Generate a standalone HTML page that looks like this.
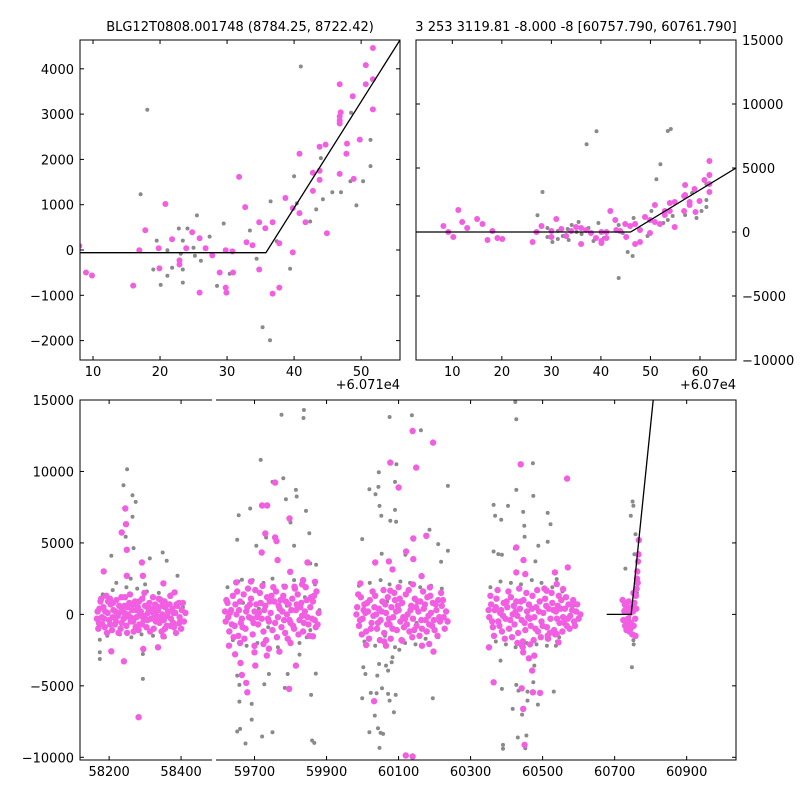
<!DOCTYPE html>
<html><head><meta charset="utf-8">
<style>
html,body{margin:0;padding:0;background:#fff;width:800px;height:800px;overflow:hidden}
svg{display:block;font-family:"DejaVu Sans","Liberation Sans",sans-serif}
</style></head>
<body>
<svg id="chart" width="800" height="800" viewBox="0 0 800 800" xmlns="http://www.w3.org/2000/svg">
<rect width="800" height="800" fill="#fff"/>
<text x="240" y="31" font-size="13" text-anchor="middle">BLG12T0808.001748 (8784.25, 8722.42)</text>
<text x="576" y="31" font-size="13" text-anchor="middle">3 253 3119.81 -8.000 -8 [60757.790, 60761.790]</text>
<text x="400" y="389" font-size="13" text-anchor="end">+6.071e4</text>
<text x="736" y="389" font-size="13" text-anchor="end">+6.07e4</text>
<g id="layer"></g>
</svg>
<script>
// ---------- Top-left panel data (x offset +60710) ----------
const tlPinkX=[7.95,8.95,9.85,16,16.9,17.8,19.8,19.9,20.8,21.8,22.9,22.9,23.9,24.8,25.9,25.9,26.8,27.8,28.9,29.8,29.8,29.9,30.8,30.9,31.8,32.7,32.9,33.8,34.8,34.8,35.7,36.8,36.8,37.8,37.8,38.7,39.8,39.8,40.8,40.8,41.7,42.8,42.8,43.8,43.8,43.8,44.7,44.9,46.8,46.8,46.8,46.8,46.95,46.8,47.8,47.9,48.75,48.9,49.8,50.7,50.7,51.75,51.75,51.75];
const tlPinkY=[89,-496,-563,-785,-7,437,37,-407,1015,237,-230,-319,37,393,259,-941,37,-119,-496,-7,-830,-941,-30,-496,1615,948,170,104,615,-430,481,615,-963,148,-830,1148,926,-52,2126,815,615,1704,1304,2281,1748,1548,2326,370,3659,2948,2859,2793,3037,1681,2126,2348,3393,1570,2437,4081,3659,4459,3770,3104];
const tlGrayX=[18.1,17.1,19.5,19.0,21.1,21.1,20.1,21.8,22.8,23.4,23.1,23.4,23.4,24.1,25.5,25.0,25.2,26.1,27.4,28.5,29.5,30.4,33.4,34.4,35.3,36.4,36.5,37.4,39.4,40.0,40.4,41.0,42.4,43.3,44.0,44.3,45.7,47.0,48.4,48.5,49.3,50.3,51.4,51.4];
const tlGrayY=[3096,1230,207,-430,-7,-570,-770,-393,474,207,-81,-430,-719,474,763,52,-126,-237,296,-793,585,-526,430,-193,-1704,-1993,1074,193,-415,1630,1030,4052,630,896,2030,1119,1274,1274,1519,3030,985,1519,2430,1852];
const tlModelX=[8.06,35.8,55.8];
const tlModelY=[-60,-60,4636];
const tlXTicks=[10,20,30,40,50];
const tlYTicks=[-2000,-1000,0,1000,2000,3000,4000];

// ---------- Top-right panel data (x offset +60700) ----------
const trPinkX=[8.2,9.2,10.2,11.2,12.0,13.0,15.0,16.1,17.1,18.1,19.1,20.1,26.2,27.0,28.0,30.0,30.0,31.0,32.0,33.0,34.0,35.0,36.0,36.0,37.0,38.0,39.0,40.1,40.1,40.1,41.1,41.1,41.9,42.9,43.1,43.9,44.9,45.1,45.9,46.9,46.9,47.9,47.9,48.9,49.9,49.9,50.9,50.9,51.9,52.9,52.9,53.9,53.9,54.9,54.9,56.8,57.0,57.0,57.9,57.9,58.9,59.1,59.9,60.9,61.9,61.9,61.9,61.9,56.8];
const trPinkY=[469,0,-391,1719,781,312,1016,625,-625,78,-469,-547,-781,0,469,-391,78,1016,234,-312,78,391,-937,312,156,-78,-469,0,-859,-703,-469,0,1641,937,156,78,625,-391,469,625,-937,156,-781,1172,-78,937,2109,781,625,1641,1328,2266,1641,2344,391,1641,3672,2891,2344,2109,3359,1562,2422,4062,4453,3750,3125,5547,2812];
const trGrayX=[28.2,27.2,29.2,29.2,30.2,31.3,31.3,32.3,33.3,33.5,34.1,35.5,35.1,36.1,37.1,37.5,38.5,39.1,39.5,40.6,43.6,43.6,44.4,45.4,46.4,46.6,49.4,50.2,51.2,52.0,52.6,53.5,54.1,54.5,53.5,57.0,58.4,59.3,60.3,61.3,61.3,61.3];
const trGrayY=[3125,1302,312,-391,-781,78,-547,-312,234,-625,547,781,0,-156,6849,312,-703,7864,703,-469,-3594,547,-78,-1562,-1875,1094,-312,1641,4114,5286,703,7890,8046,1250,937,1328,3047,1094,1641,2500,1953,3750];
const trModelX=[2.67,46,67.27];
const trModelY=[0,0,5000];
const trXTicks=[10,20,30,40,50,60];
const trYTicks=[-10000,-5000,0,5000,10000,15000];

// ---------- Bottom panel data (full MJD) ----------
const btPink=[
[58168,200],[58172,-600],[58176,900],[58180,-200],[58184,500],[58188,-900],[58192,1300],[58196,100],[58200,-400],[58204,700],[58208,-1100],[58212,300],[58216,-700],[58220,1000],[58224,-100],[58228,600],[58232,-1000],[58236,400],[58240,-300],[58244,1200],[58248,-800],[58252,0],[58256,800],[58260,-500],[58264,300],[58268,-1200],[58272,900],[58276,-200],[58280,500],[58284,-700],[58288,200],[58292,1100],[58296,-400],[58300,600],[58304,-900],[58308,100],[58312,800],[58316,-300],[58320,400],[58324,-1000],[58328,700],[58332,-100],[58336,300],[58340,-600],[58344,1000],[58348,0],[58352,-400],[58356,500],[58360,-800],[58364,200],[58368,700],[58372,-300],[58376,400],[58380,-900],[58384,100],[58390,600],[58396,-200],[58402,300],[58408,-500],[58412,100],
[58170,-1000],[58178,1100],[58186,-300],[58194,-1300],[58202,1100],[58210,-200],[58218,200],[58226,-1300],[58234,1200],[58242,100],[58250,-1300],[58258,1400],[58266,700],[58274,-900],[58282,-1100],[58290,-100],[58298,1500],[58306,500],[58314,-1200],[58322,1200],[58330,-500],[58338,1100],[58346,-1200],[58354,900],[58362,-100],[58370,1300],[58378,-600],[58386,-1300],[58394,800],[58400,-1000],
[58166,-300],[58173,400],[58181,-700],[58189,200],[58197,900],[58203,-700],[58211,800],[58219,-500],[58227,100],[58235,-600],[58243,600],[58251,500],[58259,-200],[58267,-500],[58275,300],[58283,900],[58291,-700],[58299,-100],[58307,-400],[58315,400],[58323,100],[58331,600],[58339,-300],[58347,600],[58355,-1000],[58363,700],[58371,-800],[58379,100],[58387,700],[58395,-600],[58405,800],[58245,-200],[58285,100],[58325,-300],
[58282,-7197],[58245,7406],[58247,6312],[58235,5729],[58249,4518],[58291,3633],[58185,3004],[58294,2702],[58351,2166],[58249,2702],[58206,-2585],[58241,-3284],[58295,-2422],[58336,-2306],[58351,-1537],[58382,1537],
[59620,-500],[59625,800],[59630,-1200],[59635,300],[59640,1300],[59645,-800],[59650,0],[59655,-1500],[59660,900],[59665,-300],[59670,1400],[59675,-1000],[59680,500],[59685,-200],[59690,1100],[59695,-1400],[59700,200],[59705,700],[59710,-700],[59715,1500],[59720,-300],[59725,-1200],[59730,600],[59735,1200],[59740,-500],[59745,100],[59750,-1100],[59755,900],[59760,1600],[59765,-200],[59770,400],[59775,-900],[59780,1300],[59785,-1300],[59790,0],[59795,700],[59800,-600],[59805,1100],[59810,-1000],[59815,300],[59820,1400],[59825,-400],[59830,800],[59835,-1200],[59840,200],[59845,1000],[59850,-700],[59855,500],[59860,-300],[59865,1300],[59870,-900],[59878,100],
[59622,1000],[59632,100],[59642,-1600],[59652,1600],[59662,-600],[59672,-1700],[59682,1800],[59692,-300],[59702,1700],[59712,100],[59722,2000],[59732,-1800],[59742,900],[59752,1900],[59762,-1600],[59772,1000],[59782,-400],[59792,-1700],[59802,300],[59812,1800],[59822,-1400],[59832,-100],[59842,1900],[59852,-1500],[59862,900],[59872,1600],
[59618,200],[59627,-200],[59637,-700],[59647,700],[59657,300],[59667,-900],[59677,200],[59687,700],[59697,-600],[59707,-200],[59717,800],[59727,300],[59737,-300],[59747,1300],[59757,-600],[59767,600],[59777,200],[59787,900],[59797,-400],[59807,-800],[59817,700],[59827,500],[59837,-600],[59847,-200],[59857,1200],[59867,-400],[59875,-700],[59660,-2000],[59700,-2200],[59740,-2400],[59800,-2000],[59835,2400],[59690,2300],
[59757,9223],[59721,7616],[59735,7616],[59730,5659],[59720,4332],[59757,5380],[59761,5124],[59764,3796],[59797,6707],[59799,2981],[59784,1933],[59811,1933],[59832,2096],[59847,3633],[59868,2282],[59649,2236],[59629,-2189],[59646,-2795],[59661,-3400],[59665,-4239],[59677,-4798],[59680,-5450],[59700,-2655],[59702,-3587],[59734,-2888],[59769,-2608],[59796,-5217],[59815,-3587],[59862,-1537],[59725,-2073],
[59985,500],[59990,-800],[59995,1200],[60000,-300],[60005,700],[60010,-1200],[60015,200],[60020,1000],[60025,-600],[60030,-100],[60035,1300],[60040,-1000],[60045,400],[60050,-400],[60055,900],[60060,-1300],[60065,100],[60070,1200],[60075,-700],[60080,500],[60085,-200],[60090,1000],[60095,-1100],[60100,300],[60105,-500],[60110,800],[60115,-900],[60120,1400],[60125,0],[60130,-1200],[60135,600],[60140,-300],[60145,1100],[60150,-800],[60155,200],[60160,900],[60165,-1000],[60170,400],[60175,-400],[60180,1200],[60185,-700],[60190,100],[60195,800],[60200,-1100],[60205,300],[60210,1000],[60215,-500],[60220,600],[60225,-200],[60232,200],
[59988,1400],[59998,-1400],[60008,100],[60018,-1700],[60028,1600],[60038,0],[60048,-1800],[60058,1700],[60068,-700],[60078,-1700],[60088,1500],[60098,600],[60108,-1800],[60118,-300],[60128,1700],[60138,-1600],[60148,500],[60158,-1500],[60168,1600],[60178,-1200],[60188,1300],[60198,-400],[60208,-1500],[60218,1500],[60228,-1000],
[59983,0],[59993,-400],[60003,300],[60013,800],[60023,-1000],[60033,500],[60043,-600],[60053,200],[60063,700],[60073,-300],[60083,-1000],[60093,200],[60103,1100],[60113,-200],[60123,-700],[60133,300],[60143,-1100],[60153,900],[60163,-400],[60173,700],[60183,-100],[60193,-800],[60203,700],[60213,-200],[60223,1000],[60236,-500],[60060,-1900],[60100,1900],[60140,2100],
[60139,12833],[60196,12017],[60149,10271],[60077,10620],[60100,8874],[60035,3633],[60073,3703],[60083,3144],[60121,4402],[60141,3866],[60141,5310],[60177,5497],[60164,2678],[60187,1887],[59994,2166],[60077,1654],[60010,-2143],[60065,-2189],[60110,-1840],[60165,-2189],[60185,-2073],[60197,-2608],[60032,-6079],[60139,-9945],[60120,-9875],
[60352,-200],[60357,700],[60362,-900],[60367,300],[60372,1100],[60377,-500],[60382,100],[60387,-1200],[60392,800],[60397,-300],[60402,500],[60407,-1000],[60412,1200],[60417,0],[60422,-700],[60427,900],[60432,-1300],[60437,400],[60442,-400],[60447,1000],[60452,-1100],[60457,200],[60462,700],[60467,-800],[60472,1300],[60477,-200],[60482,500],[60487,-1200],[60492,900],[60497,-500],[60502,100],[60507,1100],[60512,-900],[60517,400],[60522,-300],[60527,800],[60532,-1100],[60537,200],[60542,600],[60547,-600],[60552,1000],[60557,-200],[60562,400],[60567,-800],[60572,700],[60577,-100],[60582,300],[60587,-500],[60593,200],[60600,-300],
[60355,1300],[60365,-1500],[60375,1700],[60385,300],[60395,-1700],[60405,1600],[60415,-1600],[60425,200],[60435,1800],[60445,-1900],[60455,1500],[60465,-300],[60475,-1800],[60485,1700],[60495,-1600],[60505,1800],[60515,-1700],[60525,1500],[60535,-1400],[60545,1300],[60555,-1200],[60565,1200],[60575,-1000],[60585,1000],[60596,700],
[60350,300],[60360,-500],[60370,500],[60380,-800],[60390,-100],[60400,900],[60410,-400],[60420,600],[60430,-100],[60440,900],[60450,-600],[60460,-200],[60470,400],[60480,-1000],[60490,200],[60500,-800],[60510,600],[60520,-1300],[60530,300],[60540,-300],[60550,400],[60560,-600],[60570,-300],[60580,700],[60590,-800],[60605,0],[60445,-2300],[60465,-2100],[60430,-2000],
[60439,10504],[60568,9502],[60427,4681],[60447,3796],[60452,2818],[60427,2934],[60570,3284],[60534,2934],[60539,2119],[60557,1770],[60511,1654],[60351,-2306],[60364,-4751],[60443,-2189],[60446,-2655],[60462,-3074],[60471,-3936],[60477,-2888],[60446,-6614],[60450,-9130],[60442,-5170],[60473,-5450],[60493,-5496],[60514,-1491],[60544,-1956],[60539,-1374],
[60722,1000],[60724,-400],[60727,200],[60729,-800],[60731,600],[60733,-1100],[60735,300],[60737,-300],[60739,900],[60741,-1200],[60743,100],[60745,-600],[60747,500],[60749,-1400],[60751,200],[60753,-800],[60755,800],[60757,-300],[60759,1300],[60761,1800],[60762,2500],[60763,3000],[60764,2200],[60765,3700],[60766,4200],[60767,5200],[60760,400],[60758,-1500],[60752,1500],[60744,-1000],[60735,-700],[60728,700]
];
const btGray=[
[58250,10155],[58240,9036],[58265,8338],[58274,7872],[58265,6824],[58268,4635],[58246,5427],[58206,4100],[58349,4332],[58360,3750],[58390,2700],[58313,3913],[58294,-4518],[58294,-2771],[58174,-3121],[58174,-2655],[58174,-1770],[58295,1188],
[58170,-700],[58182,1400],[58195,-1500],[58210,1700],[58230,-1400],[58248,1900],[58262,-1600],[58278,1800],[58290,-1400],[58305,1600],[58322,-1500],[58338,1500],[58355,-1600],[58372,1400],[58392,-700],[58405,500],[58220,2200],[58300,2100],[58260,2500],
[59717,10807],[59775,13974],[59837,14300],[59836,13741],[59656,6940],[59688,7406],[59750,9269],[59780,9526],[59787,8058],[59815,8710],[59817,8245],[59800,6428],[59843,7243],[59652,5217],[59732,5380],[59705,4798],[59810,4798],[59852,5683],[59855,3563],[59871,3470],[59665,2422],[59652,-4285],[59658,-4937],[59658,-6102],[59692,-6265],[59692,-7360],[59660,-8012],[59652,-8198],[59675,-9036],[59721,-8547],[59750,-8245],[59727,-4891],[59740,-4169],[59792,-4169],[59784,-5147],[59825,-2818],[59857,-5636],[59860,-8826],[59866,-8990],[59870,-4146],[59702,-2189],[59845,-1607],
[59625,1900],[59640,-1800],[59655,2300],[59668,800],[59678,-2200],[59695,2400],[59708,-2000],[59725,2200],[59738,-900],[59750,2500],[59765,-2300],[59780,2000],[59795,-1800],[59810,2400],[59825,-2000],[59840,1200],[59855,-1100],[59868,2100],[59880,300],[59712,400],[59790,600],
[60075,13811],[60137,13927],[60162,12879],[60094,10504],[60045,9945],[60044,8920],[60019,8757],[60036,8408],[60090,9269],[60047,7593],[60090,7313],[60077,6545],[60093,6475],[60052,6894],[59999,5264],[60053,4239],[60119,4169],[60237,8990],[60186,5916],[60210,4914],[60237,4449],[60218,3680],[60002,-3703],[60008,-4169],[60046,-3470],[60065,-3587],[60083,-3004],[60081,-3354],[60071,-3936],[60041,-4285],[59999,-5869],[60023,-5496],[60039,-5520],[60071,-5566],[60092,-5636],[60054,-5170],[60075,-6032],[60087,-6847],[60034,-7080],[60019,-8245],[60043,-7965],[60050,-8291],[60057,-8361],[60047,-9340],[60195,-5869],[60102,-2469],[60210,-1607],
[59990,2000],[60005,-1900],[60020,2200],[60035,-2200],[60050,2400],[60062,-1500],[60075,2100],[60090,-2300],[60105,2300],[60118,-2000],[60132,2200],[60147,-2100],[60160,1900],[60175,-1700],[60190,2000],[60205,-1500],[60220,1800],[60235,-400],[60068,900],[60150,-600],
[60424,14859],[60427,13648],[60473,10574],[60427,8710],[60474,8291],[60364,7662],[60404,7593],[60368,6894],[60385,6614],[60446,7173],[60514,7103],[60522,6312],[60449,6195],[60450,5427],[60488,4798],[60514,5077],[60364,4402],[60377,4216],[60387,4169],[60423,4612],[60480,3703],[60539,2469],[60383,-3237],[60477,-3587],[60387,-5217],[60427,-4937],[60433,-5333],[60458,-5403],[60474,-4751],[60531,-5403],[60417,-6614],[60443,-7010],[60458,-6032],[60487,-6312],[60390,-9130],[60390,-9409],[60431,-8617],[60455,-8477],[60452,-9363],[60537,-2189],[60546,-1607],
[60355,1900],[60370,-1900],[60383,2300],[60398,-2100],[60412,2200],[60425,-2300],[60440,2100],[60455,-2000],[60470,2400],[60483,-2100],[60497,2200],[60512,-2200],[60527,1900],[60540,-1900],[60555,1600],[60570,-900],[60585,600],[60600,-300],[60460,600],[60520,-300],
[60750,7900],[60752,7600],[60745,6900],[60730,3200],[60755,4200],[60758,5600],[60748,-3700],[60752,-1800],[60753,-2100],[60725,300],[60740,-200],[60762,1500],[60738,500]
];
const btModelX=[60678,60746,60807];
const btModelY=[0,0,15000];
const btLeftXTicks=[58200,58400];
const btRightXTicks=[59700,59900,60100,60300,60500,60700,60900];
const btYTicks=[-10000,-5000,0,5000,10000,15000];

const NS='http://www.w3.org/2000/svg';
const layer=document.getElementById('layer');
const PINK='#f15ee2', GRAY='#8a8a8a';
function mk(tag,attrs,parent){const e=document.createElementNS(NS,tag);for(const k in attrs)e.setAttribute(k,attrs[k]);(parent||layer).appendChild(e);return e;}
function fmt(v){return v<0?'\u2212'+Math.abs(v):String(v);}
function axes(x0,x1,y0,y1,xmin,xmax,ymin,ymax){
  return {x0,x1,y0,y1,
    sx:v=>x0+(v-xmin)/(xmax-xmin)*(x1-x0),
    sy:v=>y1-(v-ymin)/(ymax-ymin)*(y1-y0)};
}
function clipFor(id,a){const cp=mk('clipPath',{id:id});mk('rect',{x:a.x0,y:a.y0,width:a.x1-a.x0,height:a.y1-a.y0},cp);return 'url(#'+id+')';}

function drawPoints(g,a,xs,ys,color,r,name){
  for(let i=0;i<xs.length;i++){
    const c=mk('circle',{cx:a.sx(xs[i]).toFixed(1),cy:a.sy(ys[i]).toFixed(1),r:r,fill:color},g);
    
    
  }
}
function drawModel(g,a,xs,ys,name){
  const p=mk('polyline',{points:xs.map((x,i)=>a.sx(x).toFixed(1)+','+a.sy(ys[i]).toFixed(1)).join(' '),fill:'none',stroke:'#000','stroke-width':1.3},g);
  
  
}
function xTicks(a,ticks,labels){
  for(const t of ticks){const x=a.sx(t);
    mk('line',{x1:x,y1:a.y1,x2:x,y2:a.y1-4,stroke:'#000','stroke-width':1});
    mk('line',{x1:x,y1:a.y0,x2:x,y2:a.y0+4,stroke:'#000','stroke-width':1});
    if(labels){const tx=mk('text',{x:x,y:a.y1+16,'font-size':13,'text-anchor':'middle'});tx.textContent=fmt(t);
      
      }
  }
}
function yTicks(a,ticks,side,leftTick,rightTick){
  for(const t of ticks){const y=a.sy(t);
    if(leftTick)mk('line',{x1:a.x0,y1:y,x2:a.x0+4,y2:y,stroke:'#000','stroke-width':1});
    if(rightTick)mk('line',{x1:a.x1,y1:y,x2:a.x1-4,y2:y,stroke:'#000','stroke-width':1});
    if(side){const tx=mk('text',{x:side==='left'?a.x0-6:a.x1+6,y:y+5,'font-size':13,'text-anchor':side==='left'?'end':'start'});tx.textContent=fmt(t);
      
      }
  }
}

// Top-left
const TL=axes(80,400,40,360,8.06,55.8,-2428,4636);
let g=mk('g',{'clip-path':clipFor('c1',TL)});


drawPoints(g,TL,tlGrayX,tlGrayY,GRAY,2,'gray-point');
drawPoints(g,TL,tlPinkX,tlPinkY,PINK,3,'pink-point');
drawModel(g,TL,tlModelX,tlModelY,'model-line');
xTicks(TL,tlXTicks,true); yTicks(TL,tlYTicks,'left',true,true);
mk('rect',{x:80,y:40,width:320,height:320,fill:'none',stroke:'#000','stroke-width':1});

// Top-right
const TR=axes(416,736,40,360,2.67,67.27,-10000,15000);
g=mk('g',{'clip-path':clipFor('c2',TR)});


drawPoints(g,TR,trGrayX,trGrayY,GRAY,2,'gray-point');
drawPoints(g,TR,trPinkX,trPinkY,PINK,3,'pink-point');
drawModel(g,TR,trModelX,trModelY,'model-line');
xTicks(TR,trXTicks,true); yTicks(TR,trYTicks,'right',true,true);
mk('rect',{x:416,y:40,width:320,height:320,fill:'none',stroke:'#000','stroke-width':1});

// Bottom
const BL=axes(80,212,400,760,58119,58486,-10190,15000);
const BR=axes(216,736,400,760,59593,61037,-10190,15000);
const gl=mk('g',{'clip-path':clipFor('c3',BL)});


const gr=mk('g',{'clip-path':clipFor('c4',BR)});


const gxs=btGray.map(p=>p[0]), gys=btGray.map(p=>p[1]);
const pxs=btPink.map(p=>p[0]), pys=btPink.map(p=>p[1]);
drawPoints(gl,BL,gxs,gys,GRAY,2,'gray-point');
drawPoints(gr,BR,gxs,gys,GRAY,2,'gray-point');
drawPoints(gl,BL,pxs,pys,PINK,3.2,'pink-point');
drawPoints(gr,BR,pxs,pys,PINK,3.2,'pink-point');
drawModel(gr,BR,btModelX,btModelY,'model-line');
xTicks(BL,btLeftXTicks,true); xTicks(BR,btRightXTicks,true);
yTicks(BL,btYTicks,'left',true,false); yTicks(BR,btYTicks,null,false,true);
mk('polyline',{points:'212,400 80,400 80,760 212,760',fill:'none',stroke:'#000','stroke-width':1});
mk('polyline',{points:'216,400 736,400 736,760 216,760',fill:'none',stroke:'#000','stroke-width':1});
</script>
</body></html>
